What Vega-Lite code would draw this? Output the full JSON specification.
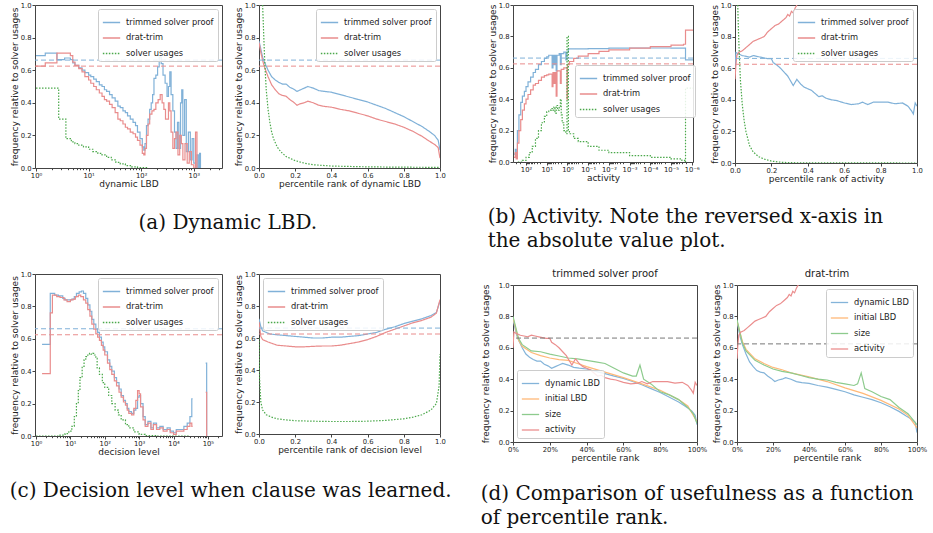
{
"$schema":"https://vega.github.io/schema/vega-lite/v6.json",
"background":"white",
"padding":{"left":9,"top":1,"right":0,"bottom":0},
"datasets":{
"refs":[{"s":"trimmed solver proof","y":0.662},{"s":"drat-trim","y":0.625}],
"a1":[
{"s":"trimmed solver proof","x":1,"y":0.69},{"s":"trimmed solver proof","x":1.5,"y":0.705},{"s":"trimmed solver proof","x":2.5,"y":0.665},{"s":"trimmed solver proof","x":3.5,"y":0.675},{"s":"trimmed solver proof","x":4.5,"y":0.665},{"s":"trimmed solver proof","x":5,"y":0.645},{"s":"trimmed solver proof","x":5.5,"y":0.63},{"s":"trimmed solver proof","x":6.5,"y":0.615},{"s":"trimmed solver proof","x":7.5,"y":0.6},{"s":"trimmed solver proof","x":8.5,"y":0.585},{"s":"trimmed solver proof","x":10,"y":0.57},{"s":"trimmed solver proof","x":11,"y":0.56},{"s":"trimmed solver proof","x":12.5,"y":0.545},{"s":"trimmed solver proof","x":14,"y":0.53},{"s":"trimmed solver proof","x":16,"y":0.51},{"s":"trimmed solver proof","x":18,"y":0.5},{"s":"trimmed solver proof","x":20,"y":0.48},{"s":"trimmed solver proof","x":22,"y":0.47},{"s":"trimmed solver proof","x":25,"y":0.45},{"s":"trimmed solver proof","x":28,"y":0.43},{"s":"trimmed solver proof","x":32,"y":0.41},{"s":"trimmed solver proof","x":36,"y":0.38},{"s":"trimmed solver proof","x":40,"y":0.37},{"s":"trimmed solver proof","x":45,"y":0.35},{"s":"trimmed solver proof","x":50,"y":0.34},{"s":"trimmed solver proof","x":55,"y":0.32},{"s":"trimmed solver proof","x":62,"y":0.3},{"s":"trimmed solver proof","x":70,"y":0.28},{"s":"trimmed solver proof","x":78,"y":0.26},{"s":"trimmed solver proof","x":85,"y":0.22},{"s":"trimmed solver proof","x":95,"y":0.18},{"s":"trimmed solver proof","x":105,"y":0.13},{"s":"trimmed solver proof","x":112,"y":0.11},{"s":"trimmed solver proof","x":118,"y":0.15},{"s":"trimmed solver proof","x":126,"y":0.26},{"s":"trimmed solver proof","x":135,"y":0.3},{"s":"trimmed solver proof","x":145,"y":0.36},{"s":"trimmed solver proof","x":155,"y":0.4},{"s":"trimmed solver proof","x":165,"y":0.45},{"s":"trimmed solver proof","x":175,"y":0.55},{"s":"trimmed solver proof","x":190,"y":0.57},{"s":"trimmed solver proof","x":205,"y":0.62},{"s":"trimmed solver proof","x":220,"y":0.68},{"s":"trimmed solver proof","x":240,"y":0.64},{"s":"trimmed solver proof","x":260,"y":0.57},{"s":"trimmed solver proof","x":285,"y":0.52},{"s":"trimmed solver proof","x":310,"y":0.44},{"s":"trimmed solver proof","x":330,"y":0.5},{"s":"trimmed solver proof","x":350,"y":0.59},{"s":"trimmed solver proof","x":370,"y":0.45},{"s":"trimmed solver proof","x":400,"y":0.35},{"s":"trimmed solver proof","x":430,"y":0.22},{"s":"trimmed solver proof","x":460,"y":0.12},{"s":"trimmed solver proof","x":490,"y":0.28},{"s":"trimmed solver proof","x":520,"y":0.12},{"s":"trimmed solver proof","x":560,"y":0.4},{"s":"trimmed solver proof","x":590,"y":0.48},{"s":"trimmed solver proof","x":620,"y":0.2},{"s":"trimmed solver proof","x":670,"y":0.42},{"s":"trimmed solver proof","x":720,"y":0.1},{"s":"trimmed solver proof","x":790,"y":0.22},{"s":"trimmed solver proof","x":860,"y":0.05},{"s":"trimmed solver proof","x":930,"y":0.18},{"s":"trimmed solver proof","x":1000,"y":0.03},{"s":"trimmed solver proof","x":1080,"y":0.0},{"s":"trimmed solver proof","x":1150,"y":0.08},{"s":"trimmed solver proof","x":1220,"y":0.0},{"s":"trimmed solver proof","x":1290,"y":0.09},{"s":"trimmed solver proof","x":1340,"y":0.0},
{"s":"drat-trim","x":1,"y":0.625},{"s":"drat-trim","x":1.5,"y":0.645},{"s":"drat-trim","x":2.5,"y":0.705},{"s":"drat-trim","x":4.5,"y":0.69},{"s":"drat-trim","x":5,"y":0.65},{"s":"drat-trim","x":5.5,"y":0.63},{"s":"drat-trim","x":6.5,"y":0.61},{"s":"drat-trim","x":7.5,"y":0.59},{"s":"drat-trim","x":8.5,"y":0.56},{"s":"drat-trim","x":10,"y":0.54},{"s":"drat-trim","x":11,"y":0.52},{"s":"drat-trim","x":12.5,"y":0.5},{"s":"drat-trim","x":14,"y":0.48},{"s":"drat-trim","x":16,"y":0.46},{"s":"drat-trim","x":18,"y":0.44},{"s":"drat-trim","x":20,"y":0.42},{"s":"drat-trim","x":22,"y":0.41},{"s":"drat-trim","x":25,"y":0.39},{"s":"drat-trim","x":28,"y":0.37},{"s":"drat-trim","x":32,"y":0.34},{"s":"drat-trim","x":36,"y":0.3},{"s":"drat-trim","x":40,"y":0.29},{"s":"drat-trim","x":45,"y":0.27},{"s":"drat-trim","x":50,"y":0.25},{"s":"drat-trim","x":55,"y":0.24},{"s":"drat-trim","x":62,"y":0.22},{"s":"drat-trim","x":70,"y":0.21},{"s":"drat-trim","x":78,"y":0.19},{"s":"drat-trim","x":85,"y":0.17},{"s":"drat-trim","x":95,"y":0.14},{"s":"drat-trim","x":105,"y":0.09},{"s":"drat-trim","x":112,"y":0.08},{"s":"drat-trim","x":118,"y":0.12},{"s":"drat-trim","x":126,"y":0.2},{"s":"drat-trim","x":135,"y":0.27},{"s":"drat-trim","x":145,"y":0.33},{"s":"drat-trim","x":160,"y":0.35},{"s":"drat-trim","x":175,"y":0.36},{"s":"drat-trim","x":190,"y":0.4},{"s":"drat-trim","x":210,"y":0.42},{"s":"drat-trim","x":230,"y":0.45},{"s":"drat-trim","x":250,"y":0.4},{"s":"drat-trim","x":270,"y":0.36},{"s":"drat-trim","x":290,"y":0.3},{"s":"drat-trim","x":310,"y":0.3},{"s":"drat-trim","x":330,"y":0.4},{"s":"drat-trim","x":350,"y":0.35},{"s":"drat-trim","x":370,"y":0.22},{"s":"drat-trim","x":400,"y":0.12},{"s":"drat-trim","x":430,"y":0.18},{"s":"drat-trim","x":460,"y":0.22},{"s":"drat-trim","x":500,"y":0.08},{"s":"drat-trim","x":540,"y":0.2},{"s":"drat-trim","x":580,"y":0.15},{"s":"drat-trim","x":620,"y":0.05},{"s":"drat-trim","x":680,"y":0.15},{"s":"drat-trim","x":750,"y":0.03},{"s":"drat-trim","x":820,"y":0.1},{"s":"drat-trim","x":900,"y":0.02},{"s":"drat-trim","x":1000,"y":0.0},{"s":"drat-trim","x":1080,"y":0.22},{"s":"drat-trim","x":1150,"y":0.0},
{"s":"solver usages","x":1,"y":0.49},{"s":"solver usages","x":2.7,"y":0.3},{"s":"solver usages","x":3.7,"y":0.18},{"s":"solver usages","x":4.7,"y":0.16},{"s":"solver usages","x":5.5,"y":0.15},{"s":"solver usages","x":6.5,"y":0.14},{"s":"solver usages","x":8,"y":0.13},{"s":"solver usages","x":10,"y":0.115},{"s":"solver usages","x":12,"y":0.1},{"s":"solver usages","x":15,"y":0.09},{"s":"solver usages","x":18,"y":0.08},{"s":"solver usages","x":22,"y":0.065},{"s":"solver usages","x":27,"y":0.05},{"s":"solver usages","x":33,"y":0.035},{"s":"solver usages","x":40,"y":0.025},{"s":"solver usages","x":50,"y":0.015},{"s":"solver usages","x":65,"y":0.007},{"s":"solver usages","x":85,"y":0.003},{"s":"solver usages","x":130,"y":0.0}
],
"a2":[
{"s":"trimmed solver proof","x":0,"y":0.78},{"s":"trimmed solver proof","x":0.01,"y":0.73},{"s":"trimmed solver proof","x":0.02,"y":0.68},{"s":"trimmed solver proof","x":0.03,"y":0.65},{"s":"trimmed solver proof","x":0.05,"y":0.6},{"s":"trimmed solver proof","x":0.07,"y":0.56},{"s":"trimmed solver proof","x":0.09,"y":0.54},{"s":"trimmed solver proof","x":0.11,"y":0.525},{"s":"trimmed solver proof","x":0.13,"y":0.515},{"s":"trimmed solver proof","x":0.15,"y":0.515},{"s":"trimmed solver proof","x":0.17,"y":0.495},{"s":"trimmed solver proof","x":0.19,"y":0.485},{"s":"trimmed solver proof","x":0.21,"y":0.47},{"s":"trimmed solver proof","x":0.23,"y":0.48},{"s":"trimmed solver proof","x":0.25,"y":0.49},{"s":"trimmed solver proof","x":0.27,"y":0.5},{"s":"trimmed solver proof","x":0.3,"y":0.49},{"s":"trimmed solver proof","x":0.33,"y":0.475},{"s":"trimmed solver proof","x":0.36,"y":0.47},{"s":"trimmed solver proof","x":0.4,"y":0.465},{"s":"trimmed solver proof","x":0.45,"y":0.45},{"s":"trimmed solver proof","x":0.5,"y":0.435},{"s":"trimmed solver proof","x":0.55,"y":0.42},{"s":"trimmed solver proof","x":0.6,"y":0.405},{"s":"trimmed solver proof","x":0.65,"y":0.385},{"s":"trimmed solver proof","x":0.7,"y":0.365},{"s":"trimmed solver proof","x":0.75,"y":0.34},{"s":"trimmed solver proof","x":0.8,"y":0.315},{"s":"trimmed solver proof","x":0.85,"y":0.285},{"s":"trimmed solver proof","x":0.9,"y":0.255},{"s":"trimmed solver proof","x":0.94,"y":0.225},{"s":"trimmed solver proof","x":0.97,"y":0.2},{"s":"trimmed solver proof","x":0.99,"y":0.17},{"s":"trimmed solver proof","x":1,"y":0.11},
{"s":"drat-trim","x":0,"y":0.77},{"s":"drat-trim","x":0.01,"y":0.71},{"s":"drat-trim","x":0.02,"y":0.66},{"s":"drat-trim","x":0.03,"y":0.62},{"s":"drat-trim","x":0.05,"y":0.56},{"s":"drat-trim","x":0.07,"y":0.51},{"s":"drat-trim","x":0.09,"y":0.48},{"s":"drat-trim","x":0.11,"y":0.455},{"s":"drat-trim","x":0.13,"y":0.445},{"s":"drat-trim","x":0.15,"y":0.44},{"s":"drat-trim","x":0.17,"y":0.42},{"s":"drat-trim","x":0.19,"y":0.405},{"s":"drat-trim","x":0.21,"y":0.385},{"s":"drat-trim","x":0.23,"y":0.395},{"s":"drat-trim","x":0.25,"y":0.4},{"s":"drat-trim","x":0.27,"y":0.41},{"s":"drat-trim","x":0.3,"y":0.4},{"s":"drat-trim","x":0.33,"y":0.385},{"s":"drat-trim","x":0.36,"y":0.378},{"s":"drat-trim","x":0.4,"y":0.373},{"s":"drat-trim","x":0.45,"y":0.36},{"s":"drat-trim","x":0.5,"y":0.35},{"s":"drat-trim","x":0.55,"y":0.335},{"s":"drat-trim","x":0.6,"y":0.32},{"s":"drat-trim","x":0.65,"y":0.3},{"s":"drat-trim","x":0.7,"y":0.285},{"s":"drat-trim","x":0.75,"y":0.27},{"s":"drat-trim","x":0.8,"y":0.25},{"s":"drat-trim","x":0.85,"y":0.225},{"s":"drat-trim","x":0.9,"y":0.195},{"s":"drat-trim","x":0.94,"y":0.165},{"s":"drat-trim","x":0.97,"y":0.145},{"s":"drat-trim","x":0.99,"y":0.125},{"s":"drat-trim","x":1,"y":0.06},
{"s":"solver usages","x":0.02,"y":1.0},{"s":"solver usages","x":0.025,"y":0.85},{"s":"solver usages","x":0.03,"y":0.7},{"s":"solver usages","x":0.035,"y":0.58},{"s":"solver usages","x":0.04,"y":0.48},{"s":"solver usages","x":0.05,"y":0.36},{"s":"solver usages","x":0.06,"y":0.28},{"s":"solver usages","x":0.07,"y":0.22},{"s":"solver usages","x":0.08,"y":0.18},{"s":"solver usages","x":0.1,"y":0.13},{"s":"solver usages","x":0.12,"y":0.1},{"s":"solver usages","x":0.15,"y":0.07},{"s":"solver usages","x":0.2,"y":0.045},{"s":"solver usages","x":0.25,"y":0.03},{"s":"solver usages","x":0.3,"y":0.02},{"s":"solver usages","x":0.4,"y":0.012},{"s":"solver usages","x":0.6,"y":0.007},{"s":"solver usages","x":0.8,"y":0.005},{"s":"solver usages","x":1,"y":0.004}
],
"b1":[
{"s":"trimmed solver proof","x":380,"y":0.05},{"s":"trimmed solver proof","x":330,"y":0.08},{"s":"trimmed solver proof","x":300,"y":0.03},{"s":"trimmed solver proof","x":260,"y":0.2},{"s":"trimmed solver proof","x":220,"y":0.3},{"s":"trimmed solver proof","x":180,"y":0.38},{"s":"trimmed solver proof","x":150,"y":0.42},{"s":"trimmed solver proof","x":120,"y":0.45},{"s":"trimmed solver proof","x":100,"y":0.48},{"s":"trimmed solver proof","x":80,"y":0.51},{"s":"trimmed solver proof","x":60,"y":0.54},{"s":"trimmed solver proof","x":45,"y":0.57},{"s":"trimmed solver proof","x":35,"y":0.59},{"s":"trimmed solver proof","x":25,"y":0.62},{"s":"trimmed solver proof","x":18,"y":0.64},{"s":"trimmed solver proof","x":13,"y":0.66},{"s":"trimmed solver proof","x":10,"y":0.67},{"s":"trimmed solver proof","x":8,"y":0.68},{"s":"trimmed solver proof","x":6,"y":0.68},{"s":"trimmed solver proof","x":5.5,"y":0.6},{"s":"trimmed solver proof","x":5,"y":0.68},{"s":"trimmed solver proof","x":4.5,"y":0.62},{"s":"trimmed solver proof","x":4,"y":0.68},{"s":"trimmed solver proof","x":3.5,"y":0.58},{"s":"trimmed solver proof","x":3.2,"y":0.68},{"s":"trimmed solver proof","x":2.5,"y":0.69},{"s":"trimmed solver proof","x":2.2,"y":0.62},{"s":"trimmed solver proof","x":2,"y":0.69},{"s":"trimmed solver proof","x":1.5,"y":0.7},{"s":"trimmed solver proof","x":1.2,"y":0.65},{"s":"trimmed solver proof","x":1.05,"y":0.7},{"s":"trimmed solver proof","x":0.9,"y":0.72},{"s":"trimmed solver proof","x":0.5,"y":0.72},{"s":"trimmed solver proof","x":0.1,"y":0.722},{"s":"trimmed solver proof","x":0.01,"y":0.725},{"s":"trimmed solver proof","x":0.001,"y":0.726},{"s":"trimmed solver proof","x":0.0001,"y":0.726},{"s":"trimmed solver proof","x":0.00001,"y":0.725},{"s":"trimmed solver proof","x":0.0000025,"y":0.725},{"s":"trimmed solver proof","x":0.000002,"y":0.65},{"s":"trimmed solver proof","x":0.00000087,"y":0.65},
{"s":"drat-trim","x":380,"y":0.03},{"s":"drat-trim","x":330,"y":0.06},{"s":"drat-trim","x":300,"y":0.02},{"s":"drat-trim","x":260,"y":0.12},{"s":"drat-trim","x":220,"y":0.2},{"s":"drat-trim","x":180,"y":0.27},{"s":"drat-trim","x":150,"y":0.33},{"s":"drat-trim","x":120,"y":0.37},{"s":"drat-trim","x":100,"y":0.4},{"s":"drat-trim","x":80,"y":0.43},{"s":"drat-trim","x":60,"y":0.46},{"s":"drat-trim","x":45,"y":0.49},{"s":"drat-trim","x":35,"y":0.5},{"s":"drat-trim","x":25,"y":0.52},{"s":"drat-trim","x":18,"y":0.54},{"s":"drat-trim","x":13,"y":0.55},{"s":"drat-trim","x":10,"y":0.555},{"s":"drat-trim","x":8,"y":0.56},{"s":"drat-trim","x":6,"y":0.56},{"s":"drat-trim","x":5.5,"y":0.48},{"s":"drat-trim","x":5,"y":0.57},{"s":"drat-trim","x":4.5,"y":0.5},{"s":"drat-trim","x":4,"y":0.57},{"s":"drat-trim","x":3.5,"y":0.42},{"s":"drat-trim","x":3.2,"y":0.58},{"s":"drat-trim","x":2.5,"y":0.58},{"s":"drat-trim","x":2.2,"y":0.5},{"s":"drat-trim","x":2,"y":0.59},{"s":"drat-trim","x":1.5,"y":0.6},{"s":"drat-trim","x":1.2,"y":0.6},{"s":"drat-trim","x":1.05,"y":0.4},{"s":"drat-trim","x":1.0,"y":0.62},{"s":"drat-trim","x":0.8,"y":0.64},{"s":"drat-trim","x":0.5,"y":0.66},{"s":"drat-trim","x":0.3,"y":0.675},{"s":"drat-trim","x":0.1,"y":0.69},{"s":"drat-trim","x":0.03,"y":0.705},{"s":"drat-trim","x":0.01,"y":0.714},{"s":"drat-trim","x":0.001,"y":0.725},{"s":"drat-trim","x":0.0001,"y":0.735},{"s":"drat-trim","x":0.00001,"y":0.745},{"s":"drat-trim","x":0.0000025,"y":0.75},{"s":"drat-trim","x":0.000002,"y":0.84},{"s":"drat-trim","x":0.00000087,"y":0.84},
{"s":"solver usages","x":250,"y":0.0},{"s":"solver usages","x":150,"y":0.01},{"s":"solver usages","x":100,"y":0.03},{"s":"solver usages","x":70,"y":0.06},{"s":"solver usages","x":50,"y":0.1},{"s":"solver usages","x":35,"y":0.15},{"s":"solver usages","x":25,"y":0.2},{"s":"solver usages","x":18,"y":0.25},{"s":"solver usages","x":13,"y":0.29},{"s":"solver usages","x":10,"y":0.32},{"s":"solver usages","x":8,"y":0.33},{"s":"solver usages","x":6,"y":0.34},{"s":"solver usages","x":5,"y":0.33},{"s":"solver usages","x":4.5,"y":0.35},{"s":"solver usages","x":4,"y":0.31},{"s":"solver usages","x":3.5,"y":0.36},{"s":"solver usages","x":3,"y":0.33},{"s":"solver usages","x":2.5,"y":0.35},{"s":"solver usages","x":2.2,"y":0.4},{"s":"solver usages","x":2,"y":0.3},{"s":"solver usages","x":1.8,"y":0.25},{"s":"solver usages","x":1.5,"y":0.2},{"s":"solver usages","x":1.2,"y":0.18},{"s":"solver usages","x":1.05,"y":0.8},{"s":"solver usages","x":0.95,"y":0.8},{"s":"solver usages","x":0.9,"y":0.2},{"s":"solver usages","x":0.8,"y":0.18},{"s":"solver usages","x":0.5,"y":0.15},{"s":"solver usages","x":0.3,"y":0.13},{"s":"solver usages","x":0.1,"y":0.1},{"s":"solver usages","x":0.03,"y":0.075},{"s":"solver usages","x":0.01,"y":0.06},{"s":"solver usages","x":0.001,"y":0.04},{"s":"solver usages","x":0.0001,"y":0.03},{"s":"solver usages","x":0.00001,"y":0.02},{"s":"solver usages","x":0.000003,"y":0.01},{"s":"solver usages","x":0.0000022,"y":0.0},{"s":"solver usages","x":0.000002,"y":0.47},{"s":"solver usages","x":0.00000087,"y":0.47}
],
"b2":[
{"s":"trimmed solver proof","x":0,"y":0.6},{"s":"trimmed solver proof","x":0.005,"y":0.7},{"s":"trimmed solver proof","x":0.02,"y":0.69},{"s":"trimmed solver proof","x":0.04,"y":0.68},{"s":"trimmed solver proof","x":0.06,"y":0.675},{"s":"trimmed solver proof","x":0.08,"y":0.67},{"s":"trimmed solver proof","x":0.1,"y":0.68},{"s":"trimmed solver proof","x":0.12,"y":0.675},{"s":"trimmed solver proof","x":0.14,"y":0.67},{"s":"trimmed solver proof","x":0.16,"y":0.665},{"s":"trimmed solver proof","x":0.18,"y":0.66},{"s":"trimmed solver proof","x":0.2,"y":0.66},{"s":"trimmed solver proof","x":0.21,"y":0.635},{"s":"trimmed solver proof","x":0.23,"y":0.62},{"s":"trimmed solver proof","x":0.25,"y":0.6},{"s":"trimmed solver proof","x":0.27,"y":0.575},{"s":"trimmed solver proof","x":0.29,"y":0.55},{"s":"trimmed solver proof","x":0.31,"y":0.51},{"s":"trimmed solver proof","x":0.32,"y":0.49},{"s":"trimmed solver proof","x":0.34,"y":0.53},{"s":"trimmed solver proof","x":0.36,"y":0.5},{"s":"trimmed solver proof","x":0.38,"y":0.48},{"s":"trimmed solver proof","x":0.4,"y":0.47},{"s":"trimmed solver proof","x":0.42,"y":0.46},{"s":"trimmed solver proof","x":0.44,"y":0.44},{"s":"trimmed solver proof","x":0.46,"y":0.42},{"s":"trimmed solver proof","x":0.48,"y":0.425},{"s":"trimmed solver proof","x":0.5,"y":0.41},{"s":"trimmed solver proof","x":0.53,"y":0.4},{"s":"trimmed solver proof","x":0.56,"y":0.395},{"s":"trimmed solver proof","x":0.6,"y":0.38},{"s":"trimmed solver proof","x":0.64,"y":0.37},{"s":"trimmed solver proof","x":0.68,"y":0.375},{"s":"trimmed solver proof","x":0.7,"y":0.385},{"s":"trimmed solver proof","x":0.73,"y":0.37},{"s":"trimmed solver proof","x":0.76,"y":0.385},{"s":"trimmed solver proof","x":0.8,"y":0.385},{"s":"trimmed solver proof","x":0.84,"y":0.385},{"s":"trimmed solver proof","x":0.88,"y":0.375},{"s":"trimmed solver proof","x":0.92,"y":0.38},{"s":"trimmed solver proof","x":0.95,"y":0.36},{"s":"trimmed solver proof","x":0.97,"y":0.33},{"s":"trimmed solver proof","x":0.98,"y":0.31},{"s":"trimmed solver proof","x":0.99,"y":0.38},{"s":"trimmed solver proof","x":1,"y":0.36},
{"s":"drat-trim","x":0,"y":0.53},{"s":"drat-trim","x":0.005,"y":0.62},{"s":"drat-trim","x":0.01,"y":0.68},{"s":"drat-trim","x":0.02,"y":0.7},{"s":"drat-trim","x":0.04,"y":0.71},{"s":"drat-trim","x":0.06,"y":0.73},{"s":"drat-trim","x":0.08,"y":0.75},{"s":"drat-trim","x":0.1,"y":0.77},{"s":"drat-trim","x":0.12,"y":0.78},{"s":"drat-trim","x":0.14,"y":0.79},{"s":"drat-trim","x":0.16,"y":0.8},{"s":"drat-trim","x":0.18,"y":0.83},{"s":"drat-trim","x":0.2,"y":0.85},{"s":"drat-trim","x":0.22,"y":0.87},{"s":"drat-trim","x":0.24,"y":0.88},{"s":"drat-trim","x":0.26,"y":0.9},{"s":"drat-trim","x":0.28,"y":0.92},{"s":"drat-trim","x":0.29,"y":0.94},{"s":"drat-trim","x":0.3,"y":0.93},{"s":"drat-trim","x":0.31,"y":0.96},{"s":"drat-trim","x":0.32,"y":0.95},{"s":"drat-trim","x":0.33,"y":0.98},{"s":"drat-trim","x":0.34,"y":1.0},{"s":"drat-trim","x":0.35,"y":1.03},
{"s":"solver usages","x":0.015,"y":1.0},{"s":"solver usages","x":0.02,"y":0.8},{"s":"solver usages","x":0.025,"y":0.65},{"s":"solver usages","x":0.03,"y":0.52},{"s":"solver usages","x":0.04,"y":0.37},{"s":"solver usages","x":0.05,"y":0.27},{"s":"solver usages","x":0.06,"y":0.2},{"s":"solver usages","x":0.08,"y":0.11},{"s":"solver usages","x":0.1,"y":0.07},{"s":"solver usages","x":0.13,"y":0.04},{"s":"solver usages","x":0.16,"y":0.025},{"s":"solver usages","x":0.2,"y":0.012},{"s":"solver usages","x":0.25,"y":0.005},{"s":"solver usages","x":0.3,"y":0.002},{"s":"solver usages","x":0.4,"y":0.001},{"s":"solver usages","x":1,"y":0.0}
],
"c1":[
{"s":"trimmed solver proof","x":1.5,"y":0.565},{"s":"trimmed solver proof","x":2.6,"y":0.88},{"s":"trimmed solver proof","x":3.5,"y":0.87},{"s":"trimmed solver proof","x":4.5,"y":0.865},{"s":"trimmed solver proof","x":6,"y":0.85},{"s":"trimmed solver proof","x":7,"y":0.84},{"s":"trimmed solver proof","x":9,"y":0.84},{"s":"trimmed solver proof","x":11,"y":0.845},{"s":"trimmed solver proof","x":13,"y":0.86},{"s":"trimmed solver proof","x":15,"y":0.88},{"s":"trimmed solver proof","x":18,"y":0.89},{"s":"trimmed solver proof","x":21,"y":0.895},{"s":"trimmed solver proof","x":24,"y":0.88},{"s":"trimmed solver proof","x":28,"y":0.85},{"s":"trimmed solver proof","x":32,"y":0.81},{"s":"trimmed solver proof","x":37,"y":0.77},{"s":"trimmed solver proof","x":42,"y":0.72},{"s":"trimmed solver proof","x":48,"y":0.69},{"s":"trimmed solver proof","x":55,"y":0.66},{"s":"trimmed solver proof","x":62,"y":0.64},{"s":"trimmed solver proof","x":70,"y":0.61},{"s":"trimmed solver proof","x":80,"y":0.58},{"s":"trimmed solver proof","x":90,"y":0.55},{"s":"trimmed solver proof","x":100,"y":0.52},{"s":"trimmed solver proof","x":120,"y":0.47},{"s":"trimmed solver proof","x":140,"y":0.43},{"s":"trimmed solver proof","x":160,"y":0.4},{"s":"trimmed solver proof","x":190,"y":0.36},{"s":"trimmed solver proof","x":220,"y":0.33},{"s":"trimmed solver proof","x":260,"y":0.29},{"s":"trimmed solver proof","x":300,"y":0.25},{"s":"trimmed solver proof","x":350,"y":0.22},{"s":"trimmed solver proof","x":400,"y":0.2},{"s":"trimmed solver proof","x":450,"y":0.17},{"s":"trimmed solver proof","x":500,"y":0.15},{"s":"trimmed solver proof","x":600,"y":0.14},{"s":"trimmed solver proof","x":700,"y":0.16},{"s":"trimmed solver proof","x":800,"y":0.17},{"s":"trimmed solver proof","x":900,"y":0.24},{"s":"trimmed solver proof","x":1000,"y":0.25},{"s":"trimmed solver proof","x":1100,"y":0.2},{"s":"trimmed solver proof","x":1300,"y":0.12},{"s":"trimmed solver proof","x":1500,"y":0.07},{"s":"trimmed solver proof","x":1800,"y":0.09},{"s":"trimmed solver proof","x":2200,"y":0.05},{"s":"trimmed solver proof","x":2600,"y":0.08},{"s":"trimmed solver proof","x":3200,"y":0.05},{"s":"trimmed solver proof","x":4000,"y":0.06},{"s":"trimmed solver proof","x":5000,"y":0.04},{"s":"trimmed solver proof","x":6500,"y":0.05},{"s":"trimmed solver proof","x":8000,"y":0.03},{"s":"trimmed solver proof","x":10000,"y":0.02},{"s":"trimmed solver proof","x":12000,"y":0.04},{"s":"trimmed solver proof","x":15000,"y":0.04},{"s":"trimmed solver proof","x":20000,"y":0.06},{"s":"trimmed solver proof","x":25000,"y":0.08},{"s":"trimmed solver proof","x":30000,"y":0.12},{"s":"trimmed solver proof","x":34000,"y":0.23},{"s":"trimmed solver proof","x":36000,"y":0.23},
{"s":"trimmed solver proof","g":1,"x":86000,"y":0.45},{"s":"trimmed solver proof","g":1,"x":92000,"y":0.0},
{"s":"drat-trim","x":1.5,"y":0.385},{"s":"drat-trim","x":2.6,"y":0.76},{"s":"drat-trim","x":3,"y":0.87},{"s":"drat-trim","x":4,"y":0.86},{"s":"drat-trim","x":5,"y":0.855},{"s":"drat-trim","x":6.5,"y":0.84},{"s":"drat-trim","x":8,"y":0.83},{"s":"drat-trim","x":10,"y":0.84},{"s":"drat-trim","x":12,"y":0.845},{"s":"drat-trim","x":14,"y":0.86},{"s":"drat-trim","x":17,"y":0.87},{"s":"drat-trim","x":20,"y":0.86},{"s":"drat-trim","x":24,"y":0.84},{"s":"drat-trim","x":28,"y":0.82},{"s":"drat-trim","x":32,"y":0.78},{"s":"drat-trim","x":37,"y":0.74},{"s":"drat-trim","x":42,"y":0.69},{"s":"drat-trim","x":48,"y":0.66},{"s":"drat-trim","x":55,"y":0.63},{"s":"drat-trim","x":62,"y":0.61},{"s":"drat-trim","x":70,"y":0.59},{"s":"drat-trim","x":80,"y":0.56},{"s":"drat-trim","x":90,"y":0.53},{"s":"drat-trim","x":100,"y":0.5},{"s":"drat-trim","x":120,"y":0.45},{"s":"drat-trim","x":140,"y":0.41},{"s":"drat-trim","x":160,"y":0.38},{"s":"drat-trim","x":190,"y":0.34},{"s":"drat-trim","x":220,"y":0.31},{"s":"drat-trim","x":260,"y":0.27},{"s":"drat-trim","x":300,"y":0.24},{"s":"drat-trim","x":350,"y":0.21},{"s":"drat-trim","x":400,"y":0.19},{"s":"drat-trim","x":450,"y":0.16},{"s":"drat-trim","x":500,"y":0.14},{"s":"drat-trim","x":600,"y":0.13},{"s":"drat-trim","x":700,"y":0.17},{"s":"drat-trim","x":800,"y":0.22},{"s":"drat-trim","x":900,"y":0.28},{"s":"drat-trim","x":1000,"y":0.26},{"s":"drat-trim","x":1100,"y":0.18},{"s":"drat-trim","x":1300,"y":0.1},{"s":"drat-trim","x":1500,"y":0.06},{"s":"drat-trim","x":1800,"y":0.08},{"s":"drat-trim","x":2200,"y":0.04},{"s":"drat-trim","x":2600,"y":0.07},{"s":"drat-trim","x":3200,"y":0.04},{"s":"drat-trim","x":4000,"y":0.05},{"s":"drat-trim","x":5000,"y":0.03},{"s":"drat-trim","x":6500,"y":0.04},{"s":"drat-trim","x":8000,"y":0.02},{"s":"drat-trim","x":10000,"y":0.01},{"s":"drat-trim","x":12000,"y":0.03},{"s":"drat-trim","x":15000,"y":0.03},{"s":"drat-trim","x":20000,"y":0.04},{"s":"drat-trim","x":25000,"y":0.06},{"s":"drat-trim","x":30000,"y":0.08},{"s":"drat-trim","x":34000,"y":0.06},{"s":"drat-trim","x":36000,"y":0.06},
{"s":"drat-trim","g":1,"x":86000,"y":0.27},{"s":"drat-trim","g":1,"x":92000,"y":0.0},
{"s":"solver usages","x":1,"y":0.0},{"s":"solver usages","x":3,"y":0.0},{"s":"solver usages","x":5,"y":0.005},{"s":"solver usages","x":7,"y":0.015},{"s":"solver usages","x":9,"y":0.03},{"s":"solver usages","x":11,"y":0.06},{"s":"solver usages","x":13,"y":0.12},{"s":"solver usages","x":15,"y":0.2},{"s":"solver usages","x":17,"y":0.28},{"s":"solver usages","x":19,"y":0.36},{"s":"solver usages","x":22,"y":0.43},{"s":"solver usages","x":25,"y":0.47},{"s":"solver usages","x":28,"y":0.49},{"s":"solver usages","x":32,"y":0.5},{"s":"solver usages","x":36,"y":0.51},{"s":"solver usages","x":40,"y":0.505},{"s":"solver usages","x":45,"y":0.51},{"s":"solver usages","x":50,"y":0.5},{"s":"solver usages","x":55,"y":0.48},{"s":"solver usages","x":60,"y":0.42},{"s":"solver usages","x":70,"y":0.38},{"s":"solver usages","x":85,"y":0.33},{"s":"solver usages","x":100,"y":0.3},{"s":"solver usages","x":130,"y":0.25},{"s":"solver usages","x":160,"y":0.2},{"s":"solver usages","x":200,"y":0.16},{"s":"solver usages","x":250,"y":0.13},{"s":"solver usages","x":300,"y":0.1},{"s":"solver usages","x":400,"y":0.07},{"s":"solver usages","x":500,"y":0.05},{"s":"solver usages","x":700,"y":0.025},{"s":"solver usages","x":1000,"y":0.01},{"s":"solver usages","x":1500,"y":0.003},{"s":"solver usages","x":3000,"y":0.0},{"s":"solver usages","x":30000,"y":0.0}
],
"c2":[
{"s":"trimmed solver proof","x":0,"y":0.72},{"s":"trimmed solver proof","x":0.01,"y":0.67},{"s":"trimmed solver proof","x":0.02,"y":0.645},{"s":"trimmed solver proof","x":0.04,"y":0.635},{"s":"trimmed solver proof","x":0.06,"y":0.625},{"s":"trimmed solver proof","x":0.1,"y":0.62},{"s":"trimmed solver proof","x":0.15,"y":0.615},{"s":"trimmed solver proof","x":0.2,"y":0.61},{"s":"trimmed solver proof","x":0.25,"y":0.605},{"s":"trimmed solver proof","x":0.3,"y":0.6},{"s":"trimmed solver proof","x":0.35,"y":0.6},{"s":"trimmed solver proof","x":0.4,"y":0.605},{"s":"trimmed solver proof","x":0.45,"y":0.605},{"s":"trimmed solver proof","x":0.5,"y":0.61},{"s":"trimmed solver proof","x":0.55,"y":0.615},{"s":"trimmed solver proof","x":0.6,"y":0.625},{"s":"trimmed solver proof","x":0.65,"y":0.635},{"s":"trimmed solver proof","x":0.7,"y":0.655},{"s":"trimmed solver proof","x":0.75,"y":0.67},{"s":"trimmed solver proof","x":0.8,"y":0.69},{"s":"trimmed solver proof","x":0.85,"y":0.705},{"s":"trimmed solver proof","x":0.9,"y":0.72},{"s":"trimmed solver proof","x":0.95,"y":0.74},{"s":"trimmed solver proof","x":0.98,"y":0.76},{"s":"trimmed solver proof","x":1,"y":0.83},
{"s":"drat-trim","x":0,"y":0.7},{"s":"drat-trim","x":0.01,"y":0.61},{"s":"drat-trim","x":0.02,"y":0.59},{"s":"drat-trim","x":0.05,"y":0.575},{"s":"drat-trim","x":0.1,"y":0.555},{"s":"drat-trim","x":0.15,"y":0.55},{"s":"drat-trim","x":0.2,"y":0.545},{"s":"drat-trim","x":0.25,"y":0.545},{"s":"drat-trim","x":0.3,"y":0.548},{"s":"drat-trim","x":0.35,"y":0.55},{"s":"drat-trim","x":0.4,"y":0.55},{"s":"drat-trim","x":0.45,"y":0.555},{"s":"drat-trim","x":0.5,"y":0.565},{"s":"drat-trim","x":0.55,"y":0.575},{"s":"drat-trim","x":0.6,"y":0.59},{"s":"drat-trim","x":0.65,"y":0.61},{"s":"drat-trim","x":0.7,"y":0.635},{"s":"drat-trim","x":0.75,"y":0.655},{"s":"drat-trim","x":0.8,"y":0.675},{"s":"drat-trim","x":0.85,"y":0.695},{"s":"drat-trim","x":0.9,"y":0.71},{"s":"drat-trim","x":0.95,"y":0.73},{"s":"drat-trim","x":0.98,"y":0.755},{"s":"drat-trim","x":1,"y":0.84},
{"s":"solver usages","x":0,"y":0.6},{"s":"solver usages","x":0.003,"y":0.35},{"s":"solver usages","x":0.01,"y":0.2},{"s":"solver usages","x":0.02,"y":0.15},{"s":"solver usages","x":0.04,"y":0.12},{"s":"solver usages","x":0.07,"y":0.105},{"s":"solver usages","x":0.1,"y":0.095},{"s":"solver usages","x":0.15,"y":0.088},{"s":"solver usages","x":0.2,"y":0.083},{"s":"solver usages","x":0.3,"y":0.08},{"s":"solver usages","x":0.4,"y":0.078},{"s":"solver usages","x":0.5,"y":0.078},{"s":"solver usages","x":0.6,"y":0.08},{"s":"solver usages","x":0.7,"y":0.085},{"s":"solver usages","x":0.8,"y":0.095},{"s":"solver usages","x":0.85,"y":0.105},{"s":"solver usages","x":0.9,"y":0.12},{"s":"solver usages","x":0.95,"y":0.15},{"s":"solver usages","x":0.98,"y":0.19},{"s":"solver usages","x":0.995,"y":0.3},{"s":"solver usages","x":1,"y":0.5}
],
"d1":[
{"s":"dynamic LBD","x":0,"y":0.78},{"s":"dynamic LBD","x":0.01,"y":0.73},{"s":"dynamic LBD","x":0.02,"y":0.68},{"s":"dynamic LBD","x":0.03,"y":0.65},{"s":"dynamic LBD","x":0.05,"y":0.6},{"s":"dynamic LBD","x":0.07,"y":0.56},{"s":"dynamic LBD","x":0.09,"y":0.54},{"s":"dynamic LBD","x":0.11,"y":0.525},{"s":"dynamic LBD","x":0.13,"y":0.515},{"s":"dynamic LBD","x":0.15,"y":0.515},{"s":"dynamic LBD","x":0.17,"y":0.495},{"s":"dynamic LBD","x":0.19,"y":0.485},{"s":"dynamic LBD","x":0.21,"y":0.47},{"s":"dynamic LBD","x":0.23,"y":0.48},{"s":"dynamic LBD","x":0.25,"y":0.49},{"s":"dynamic LBD","x":0.27,"y":0.5},{"s":"dynamic LBD","x":0.3,"y":0.49},{"s":"dynamic LBD","x":0.33,"y":0.475},{"s":"dynamic LBD","x":0.36,"y":0.47},{"s":"dynamic LBD","x":0.4,"y":0.465},{"s":"dynamic LBD","x":0.45,"y":0.45},{"s":"dynamic LBD","x":0.5,"y":0.435},{"s":"dynamic LBD","x":0.55,"y":0.42},{"s":"dynamic LBD","x":0.6,"y":0.405},{"s":"dynamic LBD","x":0.65,"y":0.385},{"s":"dynamic LBD","x":0.7,"y":0.365},{"s":"dynamic LBD","x":0.75,"y":0.34},{"s":"dynamic LBD","x":0.8,"y":0.315},{"s":"dynamic LBD","x":0.85,"y":0.285},{"s":"dynamic LBD","x":0.9,"y":0.255},{"s":"dynamic LBD","x":0.94,"y":0.225},{"s":"dynamic LBD","x":0.97,"y":0.2},{"s":"dynamic LBD","x":0.99,"y":0.17},{"s":"dynamic LBD","x":1,"y":0.11},
{"s":"initial LBD","x":0,"y":0.79},{"s":"initial LBD","x":0.03,"y":0.65},{"s":"initial LBD","x":0.05,"y":0.61},{"s":"initial LBD","x":0.1,"y":0.57},{"s":"initial LBD","x":0.15,"y":0.55},{"s":"initial LBD","x":0.2,"y":0.535},{"s":"initial LBD","x":0.25,"y":0.525},{"s":"initial LBD","x":0.3,"y":0.52},{"s":"initial LBD","x":0.35,"y":0.5},{"s":"initial LBD","x":0.4,"y":0.48},{"s":"initial LBD","x":0.5,"y":0.445},{"s":"initial LBD","x":0.6,"y":0.41},{"s":"initial LBD","x":0.7,"y":0.37},{"s":"initial LBD","x":0.8,"y":0.33},{"s":"initial LBD","x":0.9,"y":0.27},{"s":"initial LBD","x":0.95,"y":0.23},{"s":"initial LBD","x":1,"y":0.13},
{"s":"size","x":0,"y":0.8},{"s":"size","x":0.03,"y":0.66},{"s":"size","x":0.05,"y":0.62},{"s":"size","x":0.1,"y":0.58},{"s":"size","x":0.15,"y":0.575},{"s":"size","x":0.2,"y":0.56},{"s":"size","x":0.25,"y":0.548},{"s":"size","x":0.3,"y":0.535},{"s":"size","x":0.35,"y":0.53},{"s":"size","x":0.4,"y":0.52},{"s":"size","x":0.45,"y":0.51},{"s":"size","x":0.5,"y":0.5},{"s":"size","x":0.55,"y":0.47},{"s":"size","x":0.6,"y":0.44},{"s":"size","x":0.65,"y":0.42},{"s":"size","x":0.67,"y":0.42},{"s":"size","x":0.69,"y":0.49},{"s":"size","x":0.71,"y":0.4},{"s":"size","x":0.75,"y":0.37},{"s":"size","x":0.8,"y":0.32},{"s":"size","x":0.85,"y":0.3},{"s":"size","x":0.9,"y":0.27},{"s":"size","x":0.95,"y":0.22},{"s":"size","x":0.98,"y":0.18},{"s":"size","x":1,"y":0.12},
{"s":"activity","x":0,"y":0.6},{"s":"activity","x":0.005,"y":0.7},{"s":"activity","x":0.02,"y":0.69},{"s":"activity","x":0.04,"y":0.68},{"s":"activity","x":0.06,"y":0.675},{"s":"activity","x":0.08,"y":0.67},{"s":"activity","x":0.1,"y":0.68},{"s":"activity","x":0.12,"y":0.675},{"s":"activity","x":0.14,"y":0.67},{"s":"activity","x":0.16,"y":0.665},{"s":"activity","x":0.18,"y":0.66},{"s":"activity","x":0.2,"y":0.66},{"s":"activity","x":0.21,"y":0.635},{"s":"activity","x":0.23,"y":0.62},{"s":"activity","x":0.25,"y":0.6},{"s":"activity","x":0.27,"y":0.575},{"s":"activity","x":0.29,"y":0.55},{"s":"activity","x":0.31,"y":0.51},{"s":"activity","x":0.32,"y":0.49},{"s":"activity","x":0.34,"y":0.53},{"s":"activity","x":0.36,"y":0.5},{"s":"activity","x":0.38,"y":0.48},{"s":"activity","x":0.4,"y":0.47},{"s":"activity","x":0.42,"y":0.46},{"s":"activity","x":0.44,"y":0.44},{"s":"activity","x":0.46,"y":0.42},{"s":"activity","x":0.48,"y":0.425},{"s":"activity","x":0.5,"y":0.41},{"s":"activity","x":0.53,"y":0.4},{"s":"activity","x":0.56,"y":0.395},{"s":"activity","x":0.6,"y":0.38},{"s":"activity","x":0.64,"y":0.37},{"s":"activity","x":0.68,"y":0.375},{"s":"activity","x":0.7,"y":0.385},{"s":"activity","x":0.73,"y":0.37},{"s":"activity","x":0.76,"y":0.385},{"s":"activity","x":0.8,"y":0.385},{"s":"activity","x":0.84,"y":0.385},{"s":"activity","x":0.88,"y":0.375},{"s":"activity","x":0.92,"y":0.38},{"s":"activity","x":0.95,"y":0.36},{"s":"activity","x":0.97,"y":0.33},{"s":"activity","x":0.98,"y":0.31},{"s":"activity","x":0.99,"y":0.38},{"s":"activity","x":1,"y":0.36}
],
"d2":[
{"s":"dynamic LBD","x":0,"y":0.77},{"s":"dynamic LBD","x":0.01,"y":0.71},{"s":"dynamic LBD","x":0.02,"y":0.66},{"s":"dynamic LBD","x":0.03,"y":0.62},{"s":"dynamic LBD","x":0.05,"y":0.56},{"s":"dynamic LBD","x":0.07,"y":0.51},{"s":"dynamic LBD","x":0.09,"y":0.48},{"s":"dynamic LBD","x":0.11,"y":0.455},{"s":"dynamic LBD","x":0.13,"y":0.445},{"s":"dynamic LBD","x":0.15,"y":0.44},{"s":"dynamic LBD","x":0.17,"y":0.42},{"s":"dynamic LBD","x":0.19,"y":0.405},{"s":"dynamic LBD","x":0.21,"y":0.385},{"s":"dynamic LBD","x":0.23,"y":0.395},{"s":"dynamic LBD","x":0.25,"y":0.4},{"s":"dynamic LBD","x":0.27,"y":0.41},{"s":"dynamic LBD","x":0.3,"y":0.4},{"s":"dynamic LBD","x":0.33,"y":0.385},{"s":"dynamic LBD","x":0.36,"y":0.378},{"s":"dynamic LBD","x":0.4,"y":0.373},{"s":"dynamic LBD","x":0.45,"y":0.36},{"s":"dynamic LBD","x":0.5,"y":0.35},{"s":"dynamic LBD","x":0.55,"y":0.335},{"s":"dynamic LBD","x":0.6,"y":0.32},{"s":"dynamic LBD","x":0.65,"y":0.3},{"s":"dynamic LBD","x":0.7,"y":0.285},{"s":"dynamic LBD","x":0.75,"y":0.27},{"s":"dynamic LBD","x":0.8,"y":0.25},{"s":"dynamic LBD","x":0.85,"y":0.225},{"s":"dynamic LBD","x":0.9,"y":0.195},{"s":"dynamic LBD","x":0.94,"y":0.165},{"s":"dynamic LBD","x":0.97,"y":0.145},{"s":"dynamic LBD","x":0.99,"y":0.125},{"s":"dynamic LBD","x":1,"y":0.06},
{"s":"initial LBD","x":0,"y":0.77},{"s":"initial LBD","x":0.03,"y":0.64},{"s":"initial LBD","x":0.05,"y":0.59},{"s":"initial LBD","x":0.1,"y":0.53},{"s":"initial LBD","x":0.15,"y":0.5},{"s":"initial LBD","x":0.2,"y":0.475},{"s":"initial LBD","x":0.25,"y":0.46},{"s":"initial LBD","x":0.3,"y":0.44},{"s":"initial LBD","x":0.35,"y":0.428},{"s":"initial LBD","x":0.4,"y":0.415},{"s":"initial LBD","x":0.5,"y":0.385},{"s":"initial LBD","x":0.6,"y":0.345},{"s":"initial LBD","x":0.7,"y":0.31},{"s":"initial LBD","x":0.8,"y":0.265},{"s":"initial LBD","x":0.9,"y":0.21},{"s":"initial LBD","x":0.95,"y":0.17},{"s":"initial LBD","x":1,"y":0.09},
{"s":"size","x":0,"y":0.78},{"s":"size","x":0.03,"y":0.63},{"s":"size","x":0.05,"y":0.58},{"s":"size","x":0.1,"y":0.52},{"s":"size","x":0.15,"y":0.49},{"s":"size","x":0.2,"y":0.465},{"s":"size","x":0.25,"y":0.45},{"s":"size","x":0.3,"y":0.44},{"s":"size","x":0.35,"y":0.425},{"s":"size","x":0.4,"y":0.41},{"s":"size","x":0.45,"y":0.4},{"s":"size","x":0.5,"y":0.395},{"s":"size","x":0.55,"y":0.38},{"s":"size","x":0.6,"y":0.37},{"s":"size","x":0.65,"y":0.36},{"s":"size","x":0.67,"y":0.37},{"s":"size","x":0.69,"y":0.44},{"s":"size","x":0.71,"y":0.34},{"s":"size","x":0.75,"y":0.32},{"s":"size","x":0.8,"y":0.29},{"s":"size","x":0.85,"y":0.27},{"s":"size","x":0.9,"y":0.22},{"s":"size","x":0.95,"y":0.18},{"s":"size","x":1,"y":0.11},
{"s":"activity","x":0,"y":0.53},{"s":"activity","x":0.005,"y":0.62},{"s":"activity","x":0.01,"y":0.68},{"s":"activity","x":0.02,"y":0.7},{"s":"activity","x":0.04,"y":0.71},{"s":"activity","x":0.06,"y":0.73},{"s":"activity","x":0.08,"y":0.75},{"s":"activity","x":0.1,"y":0.77},{"s":"activity","x":0.12,"y":0.78},{"s":"activity","x":0.14,"y":0.79},{"s":"activity","x":0.16,"y":0.8},{"s":"activity","x":0.18,"y":0.83},{"s":"activity","x":0.2,"y":0.85},{"s":"activity","x":0.22,"y":0.87},{"s":"activity","x":0.24,"y":0.88},{"s":"activity","x":0.26,"y":0.9},{"s":"activity","x":0.28,"y":0.92},{"s":"activity","x":0.29,"y":0.94},{"s":"activity","x":0.3,"y":0.93},{"s":"activity","x":0.31,"y":0.96},{"s":"activity","x":0.32,"y":0.95},{"s":"activity","x":0.33,"y":0.98},{"s":"activity","x":0.34,"y":1.0},{"s":"activity","x":0.35,"y":1.03}
]
},
"resolve":{"scale":{"color":"independent","strokeDash":"independent"},"legend":{"color":"independent","strokeDash":"independent"}},
"spacing":28,
"hconcat":[
{"vconcat":[
{"hconcat":[
{"width":187,"height":163,"data":{"name":"a1"},
"encoding":{"y":{"field":"y","type":"quantitative","scale":{"domain":[0,1]},"axis":{"values":[0,0.2,0.4,0.6,0.8,1],"format":".1f","labelOverlap":false,"title":"frequency relative to solver usages"}}},
"layer":[
{"mark":{"type":"line","interpolate":"step-after","strokeWidth":1.2,"clip":true},
"encoding":{
"x":{"field":"x","type":"quantitative","scale":{"type":"log","domain":[0.957,3440]},"axis":{"title":"dynamic LBD","values":[1,2,3,4,5,6,7,8,9,10,20,30,40,50,60,70,80,90,100,200,300,400,500,600,700,800,900,1000,2000,3000],"labelExpr":"abs(log(datum.value)/LN10 - round(log(datum.value)/LN10)) < 0.001 ? '10' + ['⁻⁶','⁻⁵','⁻⁴','⁻³','⁻²','⁻¹','⁰','¹','²','³','⁴','⁵','⁶'][round(log(datum.value)/LN10)+6] : ''","tickSize":{"condition":{"test":"abs(log(datum.value)/LN10 - round(log(datum.value)/LN10)) < 0.001","value":3},"value":1.7}}},
"color":{"field":"s","type":"nominal","scale":{"domain":["trimmed solver proof","drat-trim","solver usages"],"range":["#80b1d8","#e98c8c","#4aa84a"]},"legend":{"title":null}},
"strokeDash":{"field":"s","type":"nominal","scale":{"domain":["trimmed solver proof","drat-trim","solver usages"],"range":[[1,0],[1,0],[1.5,1.5]]},"legend":{"title":null}}}},
{"data":{"name":"refs"},"transform":[{"filter":"datum.s==='trimmed solver proof'"}],"mark":{"type":"rule","color":"#80b1d8","strokeDash":[5,3],"strokeWidth":1},"encoding":{}},
{"data":{"name":"refs"},"transform":[{"filter":"datum.s==='drat-trim'"}],"mark":{"type":"rule","color":"#e98c8c","strokeDash":[5,3],"strokeWidth":1},"encoding":{}}
]},
{"width":181,"height":163,"data":{"name":"a2"},
"encoding":{"y":{"field":"y","type":"quantitative","scale":{"domain":[0,1]},"axis":{"values":[0,0.2,0.4,0.6,0.8,1],"format":".1f","labelOverlap":false,"title":"frequency relative to solver usages"}}},
"layer":[
{"mark":{"type":"line","strokeWidth":1.2,"clip":true},
"encoding":{
"x":{"field":"x","type":"quantitative","scale":{"domain":[0,1]},"axis":{"title":"percentile rank of dynamic LBD","values":[0,0.2,0.4,0.6,0.8,1],"format":".1f"}},
"color":{"field":"s","type":"nominal","scale":{"domain":["trimmed solver proof","drat-trim","solver usages"],"range":["#80b1d8","#e98c8c","#4aa84a"]},"legend":{"title":null}},
"strokeDash":{"field":"s","type":"nominal","scale":{"domain":["trimmed solver proof","drat-trim","solver usages"],"range":[[1,0],[1,0],[1.5,1.5]]},"legend":{"title":null}}}},
{"data":{"name":"refs"},"transform":[{"filter":"datum.s==='trimmed solver proof'"}],"mark":{"type":"rule","color":"#80b1d8","strokeDash":[5,3],"strokeWidth":1},"encoding":{}},
{"data":{"name":"refs"},"transform":[{"filter":"datum.s==='drat-trim'"}],"mark":{"type":"rule","color":"#e98c8c","strokeDash":[5,3],"strokeWidth":1},"encoding":{}}
]}
],
"spacing":10,
"resolve":{"scale":{"color":"independent","strokeDash":"independent"},"legend":{"color":"independent","strokeDash":"independent"}},
"title":{"text":"(a) Dynamic LBD.","orient":"bottom","anchor":"middle","font":"DejaVu Serif","fontSize":20,"fontWeight":"normal","color":"#111","offset":24}
},
{"hconcat":[
{"width":187,"height":162,"data":{"name":"c1"},
"encoding":{"y":{"field":"y","type":"quantitative","scale":{"domain":[0,1]},"axis":{"values":[0,0.2,0.4,0.6,0.8,1],"format":".1f","labelOverlap":false,"title":"frequency relative to solver usages"}}},
"layer":[
{"mark":{"type":"line","interpolate":"step-after","strokeWidth":1.2,"clip":true},
"encoding":{
"x":{"field":"x","type":"quantitative","scale":{"type":"log","domain":[0.935,257000]},"axis":{"title":"decision level","values":[1,2,3,4,5,6,7,8,9,10,20,30,40,50,60,70,80,90,100,200,300,400,500,600,700,800,900,1000,2000,3000,4000,5000,6000,7000,8000,9000,10000,20000,30000,40000,50000,60000,70000,80000,90000,100000,200000],"labelExpr":"abs(log(datum.value)/LN10 - round(log(datum.value)/LN10)) < 0.001 ? '10' + ['⁻⁶','⁻⁵','⁻⁴','⁻³','⁻²','⁻¹','⁰','¹','²','³','⁴','⁵','⁶'][round(log(datum.value)/LN10)+6] : ''","tickSize":{"condition":{"test":"abs(log(datum.value)/LN10 - round(log(datum.value)/LN10)) < 0.001","value":3},"value":1.7}}},
"detail":{"field":"g","type":"nominal"},
"color":{"field":"s","type":"nominal","scale":{"domain":["trimmed solver proof","drat-trim","solver usages"],"range":["#80b1d8","#e98c8c","#4aa84a"]},"legend":{"title":null}},
"strokeDash":{"field":"s","type":"nominal","scale":{"domain":["trimmed solver proof","drat-trim","solver usages"],"range":[[1,0],[1,0],[1.5,1.5]]},"legend":{"title":null}}}},
{"data":{"name":"refs"},"transform":[{"filter":"datum.s==='trimmed solver proof'"}],"mark":{"type":"rule","color":"#80b1d8","strokeDash":[5,3],"strokeWidth":1},"encoding":{}},
{"data":{"name":"refs"},"transform":[{"filter":"datum.s==='drat-trim'"}],"mark":{"type":"rule","color":"#e98c8c","strokeDash":[5,3],"strokeWidth":1},"encoding":{}}
]},
{"width":181,"height":160,"data":{"name":"c2"},
"encoding":{"y":{"field":"y","type":"quantitative","scale":{"domain":[0,1]},"axis":{"values":[0,0.2,0.4,0.6,0.8,1],"format":".1f","labelOverlap":false,"title":"frequency relative to solver usages"}}},
"layer":[
{"mark":{"type":"line","strokeWidth":1.2,"clip":true},
"encoding":{
"x":{"field":"x","type":"quantitative","scale":{"domain":[0,1]},"axis":{"title":"percentile rank of decision level","values":[0,0.2,0.4,0.6,0.8,1],"format":".1f"}},
"color":{"field":"s","type":"nominal","scale":{"domain":["trimmed solver proof","drat-trim","solver usages"],"range":["#80b1d8","#e98c8c","#4aa84a"]},"legend":{"title":null,"orient":"top-left"}},
"strokeDash":{"field":"s","type":"nominal","scale":{"domain":["trimmed solver proof","drat-trim","solver usages"],"range":[[1,0],[1,0],[1.5,1.5]]},"legend":{"title":null,"orient":"top-left"}}}},
{"data":{"name":"refs"},"transform":[{"filter":"datum.s==='trimmed solver proof'"}],"mark":{"type":"rule","color":"#80b1d8","strokeDash":[5,3],"strokeWidth":1},"encoding":{}},
{"data":{"name":"refs"},"transform":[{"filter":"datum.s==='drat-trim'"}],"mark":{"type":"rule","color":"#e98c8c","strokeDash":[5,3],"strokeWidth":1},"encoding":{}}
]}
],
"spacing":10,
"resolve":{"scale":{"color":"independent","strokeDash":"independent"},"legend":{"color":"independent","strokeDash":"independent"}},
"title":{"text":"(c) Decision level when clause was learned.","orient":"bottom","anchor":"start","align":"left","font":"DejaVu Serif","fontSize":20,"fontWeight":"normal","color":"#111","offset":24}
}
],
"spacing":36,
"resolve":{"scale":{"color":"independent","strokeDash":"independent"},"legend":{"color":"independent","strokeDash":"independent"}}
},
{"vconcat":[
{"hconcat":[
{"width":180,"height":157,"data":{"name":"b1"},
"encoding":{"y":{"field":"y","type":"quantitative","scale":{"domain":[0,1]},"axis":{"values":[0,0.2,0.4,0.6,0.8,1],"format":".1f","labelOverlap":false,"title":"frequency relative to solver usages"}}},
"layer":[
{"mark":{"type":"line","interpolate":"step-after","strokeWidth":1.2,"clip":true},
"encoding":{
"x":{"field":"x","type":"quantitative","scale":{"type":"log","domain":[0.00000087,425],"reverse":true},"axis":{"title":"activity","values":[100,200,300,10,20,30,40,50,60,70,80,90,1,2,3,4,5,6,7,8,9,0.1,0.2,0.3,0.4,0.5,0.6,0.7,0.8,0.9,0.01,0.02,0.03,0.04,0.05,0.06,0.07,0.08,0.09,0.001,0.002,0.003,0.004,0.005,0.006,0.007,0.008,0.009,0.0001,0.0002,0.0003,0.0004,0.0005,0.0006,0.0007,0.0008,0.0009,0.00001,0.00002,0.00003,0.00004,0.00005,0.00006,0.00007,0.00008,0.00009,0.000001,0.000002,0.000003,0.000004,0.000005,0.000006,0.000007,0.000008,0.000009],"labelExpr":"abs(log(datum.value)/LN10 - round(log(datum.value)/LN10)) < 0.001 ? '10' + ['⁻⁶','⁻⁵','⁻⁴','⁻³','⁻²','⁻¹','⁰','¹','²','³','⁴','⁵','⁶'][round(log(datum.value)/LN10)+6] : ''","tickSize":{"condition":{"test":"abs(log(datum.value)/LN10 - round(log(datum.value)/LN10)) < 0.001","value":3},"value":1.7}}},
"color":{"field":"s","type":"nominal","scale":{"domain":["trimmed solver proof","drat-trim","solver usages"],"range":["#80b1d8","#e98c8c","#4aa84a"]},"legend":{"title":null,"orient":"none","legendX":62,"legendY":60}},
"strokeDash":{"field":"s","type":"nominal","scale":{"domain":["trimmed solver proof","drat-trim","solver usages"],"range":[[1,0],[1,0],[1.5,1.5]]},"legend":{"title":null,"orient":"none","legendX":62,"legendY":60}}}},
{"data":{"name":"refs"},"transform":[{"filter":"datum.s==='trimmed solver proof'"}],"mark":{"type":"rule","color":"#80b1d8","strokeDash":[5,3],"strokeWidth":1},"encoding":{}},
{"data":{"name":"refs"},"transform":[{"filter":"datum.s==='drat-trim'"}],"mark":{"type":"rule","color":"#e98c8c","strokeDash":[5,3],"strokeWidth":1},"encoding":{}}
]},
{"width":182,"height":158,"data":{"name":"b2"},
"encoding":{"y":{"field":"y","type":"quantitative","scale":{"domain":[0,1]},"axis":{"values":[0,0.2,0.4,0.6,0.8,1],"format":".1f","labelOverlap":false,"title":"frequency relative to solver usages"}}},
"layer":[
{"mark":{"type":"line","strokeWidth":1.2,"clip":true},
"encoding":{
"x":{"field":"x","type":"quantitative","scale":{"domain":[0,1]},"axis":{"title":"percentile rank of activity","values":[0,0.2,0.4,0.6,0.8,1],"format":".1f"}},
"color":{"field":"s","type":"nominal","scale":{"domain":["trimmed solver proof","drat-trim","solver usages"],"range":["#80b1d8","#e98c8c","#4aa84a"]},"legend":{"title":null}},
"strokeDash":{"field":"s","type":"nominal","scale":{"domain":["trimmed solver proof","drat-trim","solver usages"],"range":[[1,0],[1,0],[1.5,1.5]]},"legend":{"title":null}}}},
{"data":{"name":"refs"},"transform":[{"filter":"datum.s==='trimmed solver proof'"}],"mark":{"type":"rule","color":"#80b1d8","strokeDash":[5,3],"strokeWidth":1},"encoding":{}},
{"data":{"name":"refs"},"transform":[{"filter":"datum.s==='drat-trim'"}],"mark":{"type":"rule","color":"#e98c8c","strokeDash":[5,3],"strokeWidth":1},"encoding":{}}
]}
],
"spacing":9,
"resolve":{"scale":{"color":"independent","strokeDash":"independent"},"legend":{"color":"independent","strokeDash":"independent"}},
"title":{"text":["(b) Activity. Note the reversed x-axis in","the absolute value plot."],"orient":"bottom","anchor":"start","align":"left","font":"DejaVu Serif","fontSize":20,"fontWeight":"normal","color":"#111","offset":23,"lineHeight":24}
},
{"hconcat":[
{"width":184,"height":157,"data":{"name":"d1"},"title":{"text":"trimmed solver proof","fontSize":10,"fontWeight":"normal","font":"DejaVu Sans","color":"#222","offset":3},
"encoding":{"y":{"field":"y","type":"quantitative","scale":{"domain":[0,1]},"axis":{"values":[0,0.2,0.4,0.6,0.8,1],"format":".1f","labelOverlap":false,"title":"frequency relative to solver usages","titlePadding":8}}},
"layer":[
{"mark":{"type":"line","strokeWidth":1.2,"clip":true},
"encoding":{
"x":{"field":"x","type":"quantitative","scale":{"domain":[0,1]},"axis":{"title":"percentile rank","values":[0,0.2,0.4,0.6,0.8,1],"format":".0%"}},
"color":{"field":"s","type":"nominal","scale":{"domain":["dynamic LBD","initial LBD","size","activity"],"range":["#84b4d9","#ffb978","#8dcb8d","#eb8e8e"]},"legend":{"title":null,"orient":"bottom-left"}}}},
{"data":{"name":"refs"},"transform":[{"filter":"datum.s==='trimmed solver proof'"}],"mark":{"type":"rule","color":"#777","strokeDash":[5,3],"strokeWidth":1},"encoding":{}}
]},
{"width":180,"height":157,"data":{"name":"d2"},"title":{"text":"drat-trim","fontSize":10,"fontWeight":"normal","font":"DejaVu Sans","color":"#222","offset":3},
"encoding":{"y":{"field":"y","type":"quantitative","scale":{"domain":[0,1]},"axis":{"values":[0,0.2,0.4,0.6,0.8,1],"format":".1f","labelOverlap":false,"title":"frequency relative to solver usages"}}},
"layer":[
{"mark":{"type":"line","strokeWidth":1.2,"clip":true},
"encoding":{
"x":{"field":"x","type":"quantitative","scale":{"domain":[0,1]},"axis":{"title":"percentile rank","values":[0,0.2,0.4,0.6,0.8,1],"format":".0%"}},
"color":{"field":"s","type":"nominal","scale":{"domain":["dynamic LBD","initial LBD","size","activity"],"range":["#84b4d9","#ffb978","#8dcb8d","#eb8e8e"]},"legend":{"title":null}}}},
{"data":{"name":"refs"},"transform":[{"filter":"datum.s==='drat-trim'"}],"mark":{"type":"rule","color":"#777","strokeDash":[5,3],"strokeWidth":1},"encoding":{}}
]}
],
"spacing":3,
"resolve":{"scale":{"color":"independent","strokeDash":"independent"},"legend":{"color":"independent","strokeDash":"independent"}},
"title":{"text":["(d) Comparison of usefulness as a function","of percentile rank."],"orient":"bottom","anchor":"start","align":"left","font":"DejaVu Serif","fontSize":20,"fontWeight":"normal","color":"#111","offset":21,"lineHeight":24}
}
],
"spacing":16,
"resolve":{"scale":{"color":"independent","strokeDash":"independent"},"legend":{"color":"independent","strokeDash":"independent"}}
}
],
"config":{
"font":"DejaVu Sans",
"view":{"stroke":"#444","strokeWidth":1},
"axis":{"grid":false,"domain":false,"labelOverlap":false,"labelFlush":false,"tickColor":"#444","tickSize":3,"labelFontSize":6.8,"labelColor":"#222","labelFont":"DejaVu Sans","titleFont":"DejaVu Sans","titleFontSize":9,"titleFontWeight":"normal","titleColor":"#222","labelPadding":1,"titlePadding":1},
"legend":{"orient":"top-right","offset":4,"labelFontSize":8.3,"labelFont":"DejaVu Sans","labelColor":"#222","symbolType":"stroke","symbolSize":300,"symbolStrokeWidth":1.3,"strokeColor":"#ccc","fillColor":"rgba(255,255,255,0.85)","padding":4,"rowPadding":2.5,"labelOffset":5,"cornerRadius":2}
}
}
